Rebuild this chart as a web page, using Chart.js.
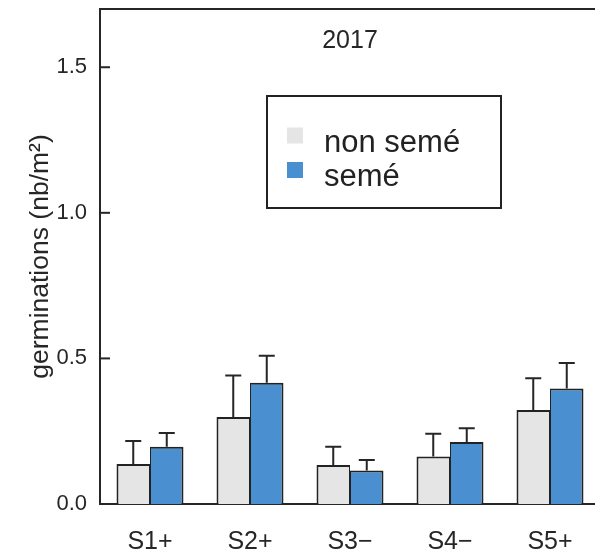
<!DOCTYPE html>
<html>
<head>
<meta charset="utf-8">
<script src="https://cdn.jsdelivr.net/npm/chart.js@4"></script>
<style>
  html, body { margin: 0; padding: 0; overflow: hidden; background: #fff; }
  #wrap { width: 600px; height: 553px; }
</style>
</head>
<body>
<div id="wrap"><canvas id="germChart" width="600" height="553"></canvas></div>
<script>
// --- data ---
const categories = ['S1+', 'S2+', 'S3\u2212', 'S4\u2212', 'S5+'];
const nonSeme = [0.137, 0.299, 0.134, 0.163, 0.323];
const nonSemeErr = [0.216, 0.441, 0.197, 0.241, 0.432];   // top of error bar
const seme = [0.197, 0.416, 0.115, 0.213, 0.397];
const semeErr = [0.244, 0.509, 0.151, 0.260, 0.484];
const yTicks = [0, 0.5, 1.0, 1.5];
const yearLabel = '2017';

const FONT = "'Liberation Sans', Arial, sans-serif";
const INK = '#262626';

// error bars, ticks inside the frame, top line, title and legend box
const extrasPlugin = {
    id: 'extras',
    afterDatasetsDraw(chart) {
        const { ctx, scales } = chart;
        const errs = [nonSemeErr, semeErr];
        ctx.save();
        ctx.strokeStyle = INK;
        ctx.lineWidth = 2;
        errs.forEach((arr, di) => {
            const meta = chart.getDatasetMeta(di);
            meta.data.forEach((bar, i) => {
                const yTop = scales.y.getPixelForValue(arr[i]);
                ctx.beginPath();
                ctx.moveTo(bar.x, bar.y);
                ctx.lineTo(bar.x, yTop);
                ctx.moveTo(bar.x - 8, yTop);
                ctx.lineTo(bar.x + 8, yTop);
                ctx.stroke();
            });
        });
        ctx.restore();
    },
    afterDraw(chart) {
        const { ctx, chartArea, scales } = chart;
        ctx.save();
        ctx.strokeStyle = INK;
        ctx.lineWidth = 2;
        // top of frame
        ctx.beginPath();
        ctx.moveTo(chartArea.left - 1, chartArea.top);
        ctx.lineTo(chartArea.right, chartArea.top);
        ctx.stroke();
        // inward y ticks
        yTicks.forEach(v => {
            const y = scales.y.getPixelForValue(v);
            ctx.beginPath();
            ctx.moveTo(chartArea.left, y);
            ctx.lineTo(chartArea.left + 10, y);
            ctx.stroke();
        });

        // title inside plot
        ctx.fillStyle = INK;
        ctx.font = `25px ${FONT}`;
        ctx.textAlign = 'center';
        ctx.textBaseline = 'alphabetic';
        ctx.fillText(yearLabel, (chartArea.left + chartArea.right) / 2, 48);

        // legend box
        const bx = 267, by = 96, bw = 234, bh = 112;
        ctx.strokeStyle = '#222';
        ctx.lineWidth = 2;
        ctx.strokeRect(bx, by, bw, bh);
        ctx.font = `31px ${FONT}`;
        ctx.textAlign = 'left';
        const rows = [151.5, 186];
        chart.data.datasets.forEach((ds, i) => {
            ctx.fillStyle = ds.backgroundColor;
            ctx.fillRect(287, rows[i] - 24, 16, 16);
            ctx.fillStyle = '#222';
            ctx.fillText(ds.label, 324, rows[i]);
        });
        ctx.restore();
    }
};

// strip the label overhang padding so the frame sits where the axes are
const noOverhang = (scale) => {
    scale.paddingTop = 0;
    scale.paddingBottom = 0;
    scale.paddingLeft = 0;
    scale.paddingRight = 0;
};

const chart = new Chart(document.getElementById('germChart').getContext('2d'), {
    type: 'bar',
    data: {
        labels: categories,
        datasets: [{
            label: 'non sem\u00e9',
            data: nonSeme,
            backgroundColor: '#e5e5e5',
            borderColor: '#222',
            borderWidth: { top: 2, left: 2, right: 1, bottom: 0 },
            borderSkipped: false
        }, {
            label: 'sem\u00e9',
            data: seme,
            backgroundColor: '#4a8fcf',
            borderColor: '#222',
            borderWidth: { top: 2, left: 1, right: 2, bottom: 0 },
            borderSkipped: false
        }]
    },
    options: {
        responsive: false,
        animation: false,
        layout: { padding: { top: 9, right: 0, left: 0, bottom: 0 } },
        datasets: { bar: { categoryPercentage: 0.67, barPercentage: 1.0 } },
        plugins: {
            legend: { display: false },
            tooltip: { enabled: false }
        },
        scales: {
            x: {
                grid: { display: false, drawTicks: false },
                border: { display: true, color: INK, width: 2 },
                ticks: { color: INK, font: { family: FONT, size: 25 }, padding: 23 },
                afterFit: (scale) => { scale.height = 49; noOverhang(scale); }
            },
            y: {
                min: 0,
                max: 1.7,
                grid: { display: false, drawTicks: false },
                border: { display: true, color: INK, width: 2 },
                afterBuildTicks: (scale) => { scale.ticks = yTicks.map(v => ({ value: v })); },
                ticks: {
                    color: INK,
                    font: { family: FONT, size: 22 },
                    padding: 13,
                    callback: (v) => Number(v).toFixed(1)
                },
                title: {
                    display: true,
                    text: 'germinations (nb/m\u00b2)',
                    color: INK,
                    font: { family: FONT, size: 26.5 },
                    padding: { top: 25, bottom: 0 }
                },
                afterFit: (scale) => { scale.width = 100; noOverhang(scale); }
            }
        }
    },
    plugins: [extrasPlugin]
});
</script>
</body>
</html>
